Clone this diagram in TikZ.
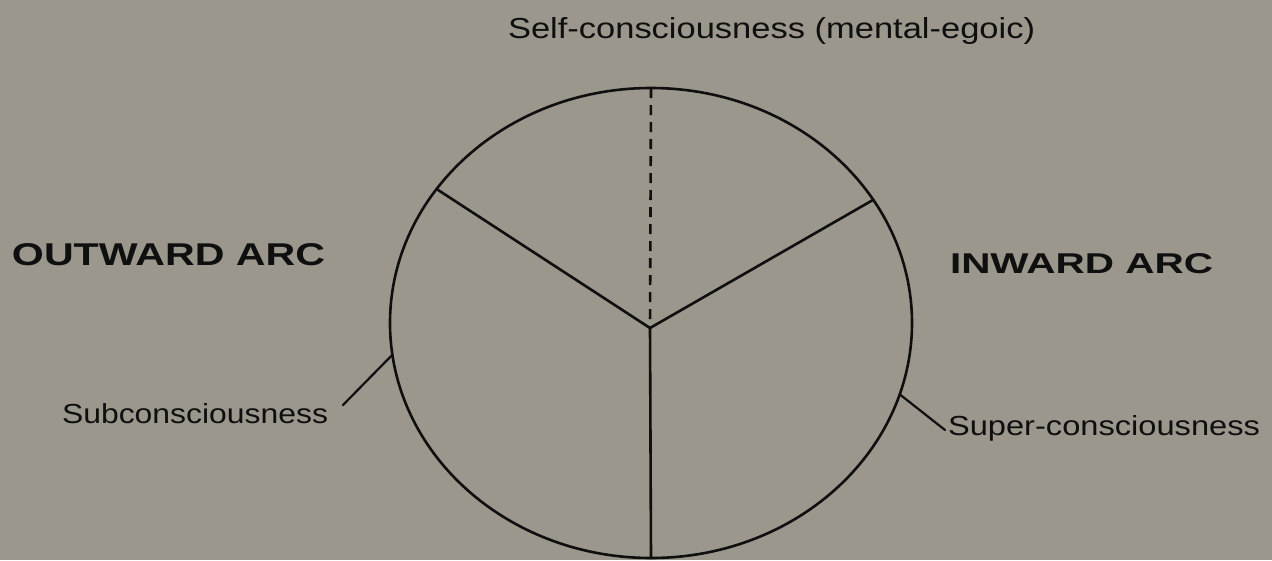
\documentclass[tikz,border=0pt]{standalone}
\usepackage{graphicx}
\usepackage{fontspec}
\setmainfont{Liberation Sans}
\usetikzlibrary{shapes.geometric}
\definecolor{bg}{RGB}{156,151,140}
\definecolor{ink}{RGB}{15,15,15}
\begin{document}
\begin{tikzpicture}[x=1pt,y=-1pt,line width=2.6pt,draw=ink,line join=round,line cap=round,
  lbl/.style={inner sep=0pt,outer sep=0pt,anchor=base west,text=ink},
  ring/.style={ellipse,draw,minimum width=522pt,minimum height=470pt,inner sep=0pt,outer sep=0pt},
  dashline/.style={line cap=butt,dash pattern=on 10pt off 7pt},
  leader/.style={line width=2.2pt}]
\fill[bg] (0,0) rectangle (1272,560);
\useasboundingbox (0,0) rectangle (1272,560);
\node[ring] (c) at (651,323) {};
\coordinate (v) at (650,328);
\draw[dashline] (c.north) -- (v);
\draw (v) -- (c.south);
\draw (v) -- (c.148.3);
\draw (v) -- (c.29.9);
\node[lbl] (self) at (508,38) {\resizebox{527pt}{21pt}{Self-consciousness (mental-egoic)}};
\node[lbl] (out) at (12,265) {\resizebox{313pt}{22pt}{\bfseries OUTWARD ARC}};
\node[lbl] (inw) at (950,273) {\resizebox{263pt}{20pt}{\bfseries INWARD ARC}};
\node[lbl] (sub) at (62,423) {\resizebox{266pt}{20pt}{Subconsciousness}};
\node[lbl] (sup) at (948,435) {\resizebox{312pt}{20pt}{Super-consciousness}};
\coordinate (subend) at (343,405);
\coordinate (supend) at (945,430);
\draw[leader] (c.187.5) -- (subend);
\draw[leader] (c.344.6) -- (supend);
\end{tikzpicture}
\end{document}
